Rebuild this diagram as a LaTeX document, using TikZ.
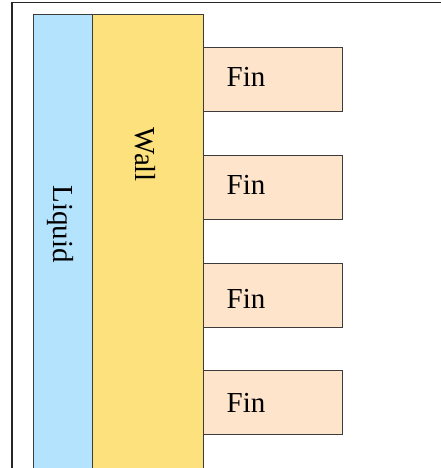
\documentclass[tikz,border=0pt]{standalone}
\usepackage{fontspec}
\setmainfont{Liberation Serif}
\definecolor{liqfill}{RGB}{179,227,253}
\definecolor{wallfill}{RGB}{253,225,125}
\definecolor{finfill}{RGB}{255,228,204}
\definecolor{edge}{RGB}{60,60,60}
\begin{document}
\begin{tikzpicture}[x=1pt,y=-1pt,
  slab/.style={draw=edge,line width=0.9pt,rectangle,inner sep=0pt,anchor=north west},
  finbox/.style={slab,fill=finfill,minimum width=139pt,minimum height=64pt},
  lbl/.style={font=\fontsize{29}{32}\selectfont,inner sep=0pt}]
\useasboundingbox (0,0) rectangle (441,468);
\clip (0,0) rectangle (441,468);
\draw[line width=1.8pt,draw=black!85] (12,2.5) rectangle (460,490);
\node[slab,fill=liqfill,minimum width=59pt,minimum height=480pt] (liquid) at (33,14) {};
\node[slab,fill=wallfill,minimum width=111pt,minimum height=480pt] (wall) at (92,14) {};
\node[finbox] (fin1) at (203,47) {};
\node[finbox] (fin2) at (203,155) {};
\node[finbox] (fin3) at (203,263) {};
\node[finbox] (fin4) at (203,370) {};
\node[lbl,rotate=-90] (liqtxt) at (60,224) {Liquid};
\node[lbl,rotate=-90] (walltxt) at (145,155) {Wall};
\node[lbl] (fintxt1) at (246,76.5) {Fin};
\node[lbl] (fintxt2) at (246,184.5) {Fin};
\node[lbl] (fintxt3) at (246,298.5) {Fin};
\node[lbl] (fintxt4) at (246,403) {Fin};
\end{tikzpicture}
\end{document}
